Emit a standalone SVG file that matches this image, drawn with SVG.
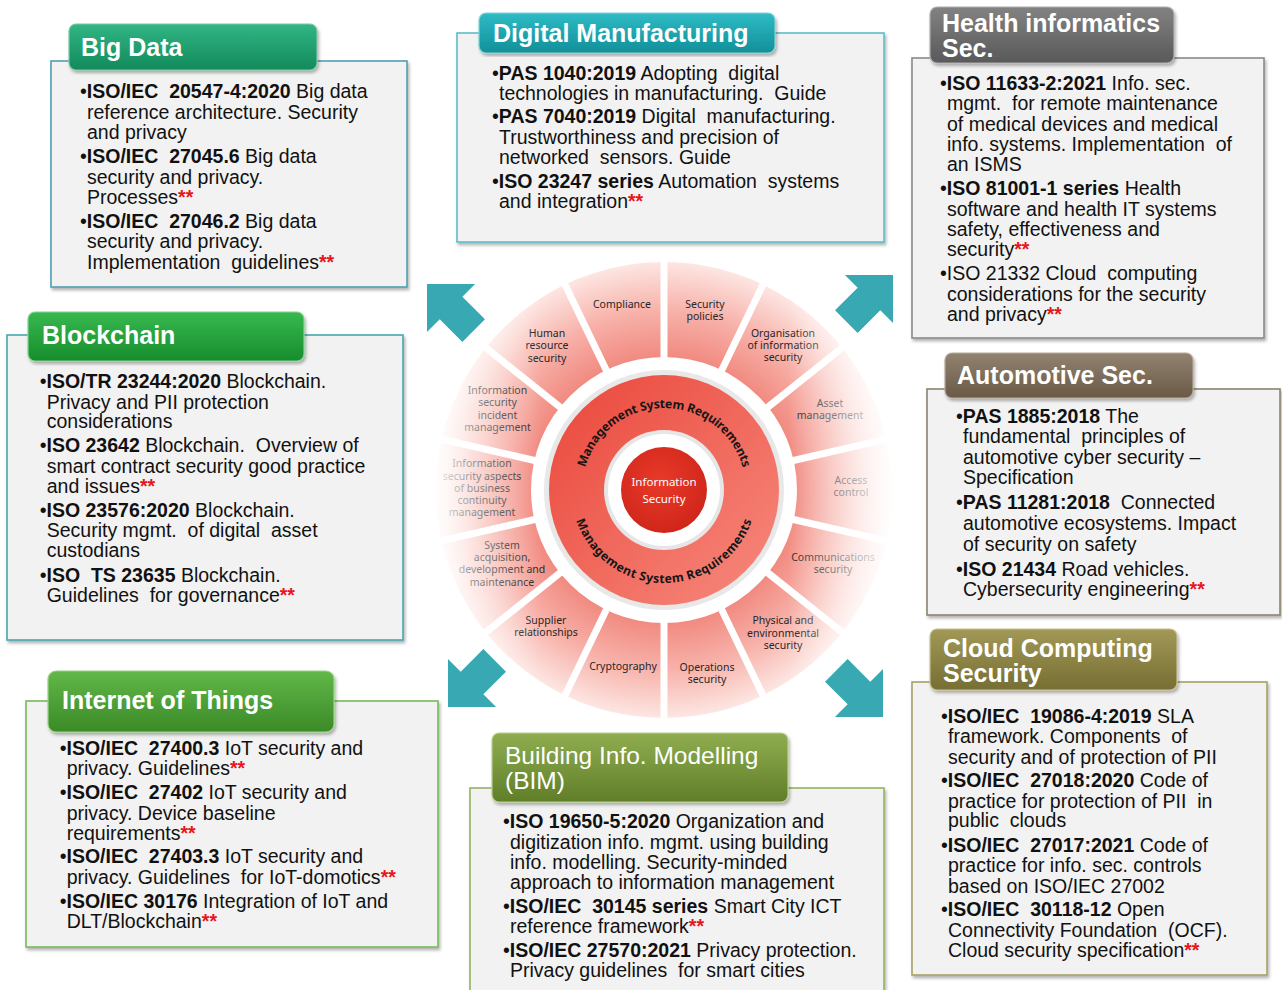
<svg xmlns="http://www.w3.org/2000/svg" width="1282" height="990" viewBox="0 0 1282 990">
  <style>
    .hd { font-family: "Liberation Sans", Arial, sans-serif; font-size: 25px; font-weight: bold; fill: #ffffff; }
    .hdr { font-weight: normal; font-size: 24.5px; }
    .bd { font-family: "Liberation Sans", Arial, sans-serif; font-size: 19.5px; fill: #111111; white-space: pre; }
    .k { font-weight: bold; }
    .r { fill: #e8141b; font-weight: bold; }
    .box { fill: #f2f2f2; stroke-width: 1.6; filter: url(#sh); }
    .tab { stroke-width: 1.2; filter: url(#sh); }
    .seg { font-family: "Noto Sans", "Open Sans", sans-serif; font-size: 10.5px; fill: #262626; text-anchor: middle; }
    .ring { font-family: "Noto Sans", "Open Sans", sans-serif; font-size: 12.2px; font-weight: bold; fill: #161616; }
    .core { font-family: "Noto Sans", "Open Sans", sans-serif; font-size: 11.5px; fill: #ffffff; text-anchor: middle; }
    .sep { stroke: #ffffff; stroke-width: 7; }
    .arrow { fill: #38a9b3; }
  </style>
  <defs>
    <filter id="sh" x="-5%" y="-5%" width="112%" height="115%">
      <feDropShadow dx="1.5" dy="2.5" stdDeviation="1.8" flood-color="#000000" flood-opacity="0.3"/>
    </filter>
    <linearGradient id="gBig" x1="0" y1="0" x2="0" y2="1"><stop offset="0" stop-color="#32b584"/><stop offset="1" stop-color="#128a5b"/></linearGradient>
    <linearGradient id="gDig" x1="0" y1="0" x2="0" y2="1"><stop offset="0" stop-color="#2fbbc5"/><stop offset="1" stop-color="#118f99"/></linearGradient>
    <linearGradient id="gHea" x1="0" y1="0" x2="0" y2="1"><stop offset="0" stop-color="#828282"/><stop offset="1" stop-color="#595959"/></linearGradient>
    <linearGradient id="gAut" x1="0" y1="0" x2="0" y2="1"><stop offset="0" stop-color="#928370"/><stop offset="1" stop-color="#695946"/></linearGradient>
    <linearGradient id="gClo" x1="0" y1="0" x2="0" y2="1"><stop offset="0" stop-color="#a29857"/><stop offset="1" stop-color="#766e33"/></linearGradient>
    <linearGradient id="gBim" x1="0" y1="0" x2="0" y2="1"><stop offset="0" stop-color="#8fad4f"/><stop offset="1" stop-color="#607e29"/></linearGradient>
    <linearGradient id="gIot" x1="0" y1="0" x2="0" y2="1"><stop offset="0" stop-color="#61b848"/><stop offset="1" stop-color="#3b8a27"/></linearGradient>
    <linearGradient id="gBlk" x1="0" y1="0" x2="0" y2="1"><stop offset="0" stop-color="#37b84f"/><stop offset="1" stop-color="#178d2c"/></linearGradient>
    <radialGradient id="gSeg" gradientUnits="userSpaceOnUse" cx="664" cy="490" r="228">
      <stop offset="0.58" stop-color="#f18a80"/>
      <stop offset="0.78" stop-color="#f7b0a8"/>
      <stop offset="1" stop-color="#fde6e2"/>
    </radialGradient>
    <linearGradient id="gFade" gradientUnits="userSpaceOnUse" x1="436" y1="0" x2="893" y2="0">
      <stop offset="0" stop-color="#ffffff" stop-opacity="0.9"/>
      <stop offset="0.08" stop-color="#ffffff" stop-opacity="0.5"/>
      <stop offset="0.23" stop-color="#ffffff" stop-opacity="0"/>
      <stop offset="0.77" stop-color="#ffffff" stop-opacity="0"/>
      <stop offset="0.9" stop-color="#ffffff" stop-opacity="0.55"/>
      <stop offset="1" stop-color="#ffffff" stop-opacity="0.95"/>
    </linearGradient>
    <linearGradient id="gMsr" x1="0" y1="0" x2="1" y2="1">
      <stop offset="0" stop-color="#ea463a"/>
      <stop offset="1" stop-color="#f78a7e"/>
    </linearGradient>
    <radialGradient id="gCore" cx="0.45" cy="0.4" r="0.6">
      <stop offset="0" stop-color="#e83a2a"/>
      <stop offset="1" stop-color="#d0261a"/>
    </radialGradient>
    <polygon id="arr" points="0,0 34,-34 34,-16 66,-16 66,16 34,16 34,34"/>
    <path id="arcTop" d="M 582 490 A 82 82 0 0 1 746 490"/>
    <path id="arcBot" d="M 571 490 A 93 93 0 0 0 757 490"/>
  </defs>

  <rect x="0" y="0" width="1282" height="990" fill="#ffffff"/>

  <!-- central ISMS wheel -->
  <g id="wheel">
    <path d="M 436 490 A 228 228 0 1 0 892 490 A 228 228 0 1 0 436 490 Z M 531 490 A 133 133 0 1 0 797 490 A 133 133 0 1 0 531 490 Z" fill="url(#gSeg)" fill-rule="evenodd"/>
    <g id="separators">
      <line class="sep" x1="664" y1="364" x2="664" y2="256"/>
      <line class="sep" x1="718.7" y1="376.5" x2="765.6" y2="279.2"/>
      <line class="sep" x1="762.5" y1="411.4" x2="846.9" y2="344.1"/>
      <line class="sep" x1="786.8" y1="462" x2="892.1" y2="437.9"/>
      <line class="sep" x1="786.8" y1="518" x2="892.1" y2="542.1"/>
      <line class="sep" x1="762.5" y1="568.6" x2="846.9" y2="635.9"/>
      <line class="sep" x1="718.7" y1="603.5" x2="765.6" y2="700.8"/>
      <line class="sep" x1="664" y1="616" x2="664" y2="724"/>
      <line class="sep" x1="609.3" y1="603.5" x2="562.4" y2="700.8"/>
      <line class="sep" x1="565.5" y1="568.6" x2="481.1" y2="635.9"/>
      <line class="sep" x1="541.2" y1="518" x2="435.9" y2="542.1"/>
      <line class="sep" x1="541.2" y1="462" x2="435.9" y2="437.9"/>
      <line class="sep" x1="565.5" y1="411.4" x2="481.1" y2="344.1"/>
      <line class="sep" x1="609.3" y1="376.5" x2="562.4" y2="279.2"/>
    </g>
    <g id="domains">
      <text class="seg" x="622" y="308">Compliance</text>
      <text class="seg"><tspan x="705" y="308">Security</tspan><tspan x="705" y="320">policies</tspan></text>
      <text class="seg"><tspan x="783" y="337">Organisation</tspan><tspan x="783" y="349">of information</tspan><tspan x="783" y="361">security</tspan></text>
      <text class="seg"><tspan x="830" y="406.5">Asset</tspan><tspan x="830" y="418.5">management</tspan></text>
      <text class="seg"><tspan x="851" y="484">Access</tspan><tspan x="851" y="496">control</tspan></text>
      <text class="seg"><tspan x="833" y="561">Communications</tspan><tspan x="833" y="573">security</tspan></text>
      <text class="seg"><tspan x="783" y="624">Physical and</tspan><tspan x="783" y="636.5">environmental</tspan><tspan x="783" y="648.5">security</tspan></text>
      <text class="seg"><tspan x="707" y="670.5">Operations</tspan><tspan x="707" y="682.5">security</tspan></text>
      <text class="seg" x="623" y="670">Cryptography</text>
      <text class="seg"><tspan x="546" y="624">Supplier</tspan><tspan x="546" y="636">relationships</tspan></text>
      <text class="seg"><tspan x="502" y="549">System</tspan><tspan x="502" y="561">acquisition,</tspan><tspan x="502" y="573">development and</tspan><tspan x="502" y="585.5">maintenance</tspan></text>
      <text class="seg"><tspan x="482" y="467">Information</tspan><tspan x="482" y="479.5">security aspects</tspan><tspan x="482" y="491.5">of business</tspan><tspan x="482" y="504">continuity</tspan><tspan x="482" y="516">management</tspan></text>
      <text class="seg"><tspan x="497.5" y="394">Information</tspan><tspan x="497.5" y="406">security</tspan><tspan x="497.5" y="418.5">incident</tspan><tspan x="497.5" y="430.5">management</tspan></text>
      <text class="seg"><tspan x="547" y="337">Human</tspan><tspan x="547" y="349">resource</tspan><tspan x="547" y="361.5">security</tspan></text>
    </g>
    <path d="M 434 490 A 230 230 0 1 0 894 490 A 230 230 0 1 0 434 490 Z M 531 490 A 133 133 0 1 0 797 490 A 133 133 0 1 0 531 490 Z" fill="url(#gFade)" fill-rule="evenodd"/>
    <circle cx="664" cy="490" r="120" fill="#e8e8e8"/>
    <circle cx="664" cy="490" r="115" fill="url(#gMsr)"/>
    <circle cx="664" cy="490" r="60" fill="#e6e6e6"/>
    <circle cx="664" cy="490" r="56" fill="#ffffff"/>
    <circle cx="664" cy="490" r="43" fill="url(#gCore)"/>
    <text class="ring" letter-spacing="-0.2"><textPath href="#arcTop" startOffset="50%" text-anchor="middle">Management System Requirements</textPath></text>
    <text class="ring" letter-spacing="0.4"><textPath href="#arcBot" startOffset="50%" text-anchor="middle">Management System Requirements</textPath></text>
    <text class="core"><tspan x="664" y="486">Information</tspan><tspan x="664" y="503">Security</tspan></text>
  </g>

  <!-- arrows pointing out to the application areas -->
  <g id="connectors">
    <use href="#arr" class="arrow" transform="translate(427,284) rotate(45)"/>
    <use href="#arr" class="arrow" transform="translate(893,275) rotate(135)"/>
    <use href="#arr" class="arrow" transform="translate(448,707) rotate(-45)"/>
    <use href="#arr" class="arrow" transform="translate(883,717) rotate(-135)"/>
  </g>

  <!-- Big Data -->
  <g id="big-data">
    <rect class="box" x="51" y="61" width="356" height="226" stroke="#4f9fb4"/>
    <rect class="tab" x="69" y="24" width="248" height="46" rx="7" fill="url(#gBig)" stroke="#7cc9a8"/>
    <text class="hd" x="81" y="56">Big Data</text>
    <text class="bd">
      <tspan x="80" y="98">•<tspan class="k">ISO/IEC  20547-4:2020</tspan> Big data</tspan>
      <tspan x="87" y="119">reference architecture. Security</tspan>
      <tspan x="87" y="139">and privacy</tspan>
      <tspan x="80" y="163">•<tspan class="k">ISO/IEC  27045.6</tspan> Big data</tspan>
      <tspan x="87" y="183.5">security and privacy.</tspan>
      <tspan x="87" y="203.5">Processes<tspan class="r">**</tspan></tspan>
      <tspan x="80" y="227.5">•<tspan class="k">ISO/IEC  27046.2</tspan> Big data</tspan>
      <tspan x="87" y="247.5">security and privacy.</tspan>
      <tspan x="87" y="268.5">Implementation  guidelines<tspan class="r">**</tspan></tspan>
    </text>
  </g>

  <!-- Digital Manufacturing -->
  <g id="digital-manufacturing">
    <rect class="box" x="457" y="33" width="427" height="209" stroke="#5bbfc6"/>
    <rect class="tab" x="479" y="13" width="296" height="40" rx="7" fill="url(#gDig)" stroke="#82d3d8"/>
    <text class="hd" x="493" y="41.5">Digital Manufacturing</text>
    <text class="bd">
      <tspan x="492" y="79.5">•<tspan class="k">PAS 1040:2019</tspan> Adopting  digital</tspan>
      <tspan x="499" y="100">technologies in manufacturing.  Guide</tspan>
      <tspan x="492" y="122.5">•<tspan class="k">PAS 7040:2019</tspan> Digital  manufacturing.</tspan>
      <tspan x="499" y="143.5">Trustworthiness and precision of</tspan>
      <tspan x="499" y="164">networked  sensors. Guide</tspan>
      <tspan x="492" y="187.5">•<tspan class="k">ISO 23247 series</tspan> Automation  systems</tspan>
      <tspan x="499" y="208">and integration<tspan class="r">**</tspan></tspan>
    </text>
  </g>

  <!-- Health informatics -->
  <g id="health-informatics">
    <rect class="box" x="912" y="58" width="352" height="280" stroke="#8a8a8a"/>
    <rect class="tab" x="930" y="7" width="244" height="56" rx="7" fill="url(#gHea)" stroke="#b0b0b0"/>
    <text class="hd"><tspan x="942" y="31.5">Health informatics</tspan><tspan x="942" y="56.5">Sec.</tspan></text>
    <text class="bd">
      <tspan x="940" y="89.5">•<tspan class="k">ISO 11633-2:2021</tspan> Info. sec.</tspan>
      <tspan x="947" y="110">mgmt.  for remote maintenance</tspan>
      <tspan x="947" y="131">of medical devices and medical</tspan>
      <tspan x="947" y="151">info. systems. Implementation  of</tspan>
      <tspan x="947" y="171">an ISMS</tspan>
      <tspan x="940" y="195">•<tspan class="k">ISO 81001-1 series</tspan> Health</tspan>
      <tspan x="947" y="215.5">software and health IT systems</tspan>
      <tspan x="947" y="236">safety, effectiveness and</tspan>
      <tspan x="947" y="256">security<tspan class="r">**</tspan></tspan>
      <tspan x="940" y="280">•ISO 21332 Cloud  computing</tspan>
      <tspan x="947" y="300.5">considerations for the security</tspan>
      <tspan x="947" y="321">and privacy<tspan class="r">**</tspan></tspan>
    </text>
  </g>

  <!-- Automotive -->
  <g id="automotive">
    <rect class="box" x="927" y="389" width="353" height="226" stroke="#8c826e"/>
    <rect class="tab" x="945" y="353" width="248" height="45" rx="7" fill="url(#gAut)" stroke="#b5aa98"/>
    <text class="hd" x="957" y="384">Automotive Sec.</text>
    <text class="bd">
      <tspan x="956" y="422.5">•<tspan class="k">PAS 1885:2018</tspan> The</tspan>
      <tspan x="963" y="442.5">fundamental  principles of</tspan>
      <tspan x="963" y="463.5">automotive cyber security –</tspan>
      <tspan x="963" y="483.5">Specification</tspan>
      <tspan x="956" y="508.5">•<tspan class="k">PAS 11281:2018</tspan>  Connected</tspan>
      <tspan x="963" y="529.5">automotive ecosystems. Impact</tspan>
      <tspan x="963" y="550.5">of security on safety</tspan>
      <tspan x="956" y="575.5">•<tspan class="k">ISO 21434</tspan> Road vehicles.</tspan>
      <tspan x="963" y="595.5">Cybersecurity engineering<tspan class="r">**</tspan></tspan>
    </text>
  </g>

  <!-- Cloud Computing Security -->
  <g id="cloud-computing">
    <rect class="box" x="912" y="682" width="355" height="293" stroke="#a7a066"/>
    <rect class="tab" x="930" y="629" width="247" height="61" rx="7" fill="url(#gClo)" stroke="#c8c292"/>
    <text class="hd"><tspan x="943" y="657">Cloud  Computing</tspan><tspan x="943" y="682">Security</tspan></text>
    <text class="bd">
      <tspan x="941" y="723">•<tspan class="k">ISO/IEC  19086-4:2019</tspan> SLA</tspan>
      <tspan x="948" y="743">framework. Components  of</tspan>
      <tspan x="948" y="763.5">security and of protection of PII</tspan>
      <tspan x="941" y="787">•<tspan class="k">ISO/IEC  27018:2020</tspan> Code of</tspan>
      <tspan x="948" y="807.5">practice for protection of PII  in</tspan>
      <tspan x="948" y="827">public  clouds</tspan>
      <tspan x="941" y="852">•<tspan class="k">ISO/IEC  27017:2021</tspan> Code of</tspan>
      <tspan x="948" y="872">practice for info. sec. controls</tspan>
      <tspan x="948" y="892.5">based on ISO/IEC 27002</tspan>
      <tspan x="941" y="916">•<tspan class="k">ISO/IEC  30118-12</tspan> Open</tspan>
      <tspan x="948" y="936.5">Connectivity Foundation  (OCF).</tspan>
      <tspan x="948" y="957">Cloud security specification<tspan class="r">**</tspan></tspan>
    </text>
  </g>

  <!-- Building Information Modelling -->
  <g id="bim">
    <rect class="box" x="470" y="788" width="414" height="210" stroke="#94b25e"/>
    <rect class="tab" x="492" y="733" width="296" height="69" rx="7" fill="url(#gBim)" stroke="#b9d08e"/>
    <text class="hd hdr"><tspan x="505" y="764">Building Info. Modelling</tspan><tspan x="505" y="789">(BIM)</tspan></text>
    <text class="bd">
      <tspan x="503" y="827.5">•<tspan class="k">ISO 19650-5:2020</tspan> Organization and</tspan>
      <tspan x="510" y="848.5">digitization info. mgmt. using building</tspan>
      <tspan x="510" y="868.5">info. modelling. Security-minded</tspan>
      <tspan x="510" y="888.5">approach to information management</tspan>
      <tspan x="503" y="912.5">•<tspan class="k">ISO/IEC  30145 series</tspan> Smart City ICT</tspan>
      <tspan x="510" y="932.5">reference framework<tspan class="r">**</tspan></tspan>
      <tspan x="503" y="956.5">•<tspan class="k">ISO/IEC 27570:2021</tspan> Privacy protection.</tspan>
      <tspan x="510" y="976.5">Privacy guidelines  for smart cities</tspan>
    </text>
  </g>

  <!-- Internet of Things -->
  <g id="iot">
    <rect class="box" x="26" y="701" width="412" height="246" stroke="#74bb5a"/>
    <rect class="tab" x="48" y="671" width="286" height="61" rx="8" fill="url(#gIot)" stroke="#9ed38a"/>
    <text class="hd" x="62" y="709">Internet of Things</text>
    <text class="bd">
      <tspan x="59.7" y="755">•<tspan class="k">ISO/IEC  27400.3</tspan> IoT security and</tspan>
      <tspan x="66.7" y="775">privacy. Guidelines<tspan class="r">**</tspan></tspan>
      <tspan x="59.7" y="798.5">•<tspan class="k">ISO/IEC  27402</tspan> IoT security and</tspan>
      <tspan x="66.7" y="819.5">privacy. Device baseline</tspan>
      <tspan x="66.7" y="839.5">requirements<tspan class="r">**</tspan></tspan>
      <tspan x="59.7" y="863">•<tspan class="k">ISO/IEC  27403.3</tspan> IoT security and</tspan>
      <tspan x="66.7" y="883.5">privacy. Guidelines  for IoT-domotics<tspan class="r">**</tspan></tspan>
      <tspan x="59.7" y="907.5">•<tspan class="k">ISO/IEC 30176</tspan> Integration of IoT and</tspan>
      <tspan x="66.7" y="928">DLT/Blockchain<tspan class="r">**</tspan></tspan>
    </text>
  </g>

  <!-- Blockchain -->
  <g id="blockchain">
    <rect class="box" x="7" y="335" width="396" height="305" stroke="#49a6ad"/>
    <rect class="tab" x="28" y="312" width="276" height="49" rx="7" fill="url(#gBlk)" stroke="#86d494"/>
    <text class="hd" x="42" y="344">Blockchain</text>
    <text class="bd">
      <tspan x="39.7" y="387.5">•<tspan class="k">ISO/TR 23244:2020</tspan> Blockchain.</tspan>
      <tspan x="46.7" y="408.5">Privacy and PII protection</tspan>
      <tspan x="46.7" y="428">considerations</tspan>
      <tspan x="39.7" y="452">•<tspan class="k">ISO 23642</tspan> Blockchain.  Overview of</tspan>
      <tspan x="46.7" y="473">smart contract security good practice</tspan>
      <tspan x="46.7" y="493">and issues<tspan class="r">**</tspan></tspan>
      <tspan x="39.7" y="517">•<tspan class="k">ISO 23576:2020</tspan> Blockchain.</tspan>
      <tspan x="46.7" y="537">Security mgmt.  of digital  asset</tspan>
      <tspan x="46.7" y="557">custodians</tspan>
      <tspan x="39.7" y="581.5">•<tspan class="k">ISO  TS 23635</tspan> Blockchain.</tspan>
      <tspan x="46.7" y="602">Guidelines  for governance<tspan class="r">**</tspan></tspan>
    </text>
  </g>
</svg>
